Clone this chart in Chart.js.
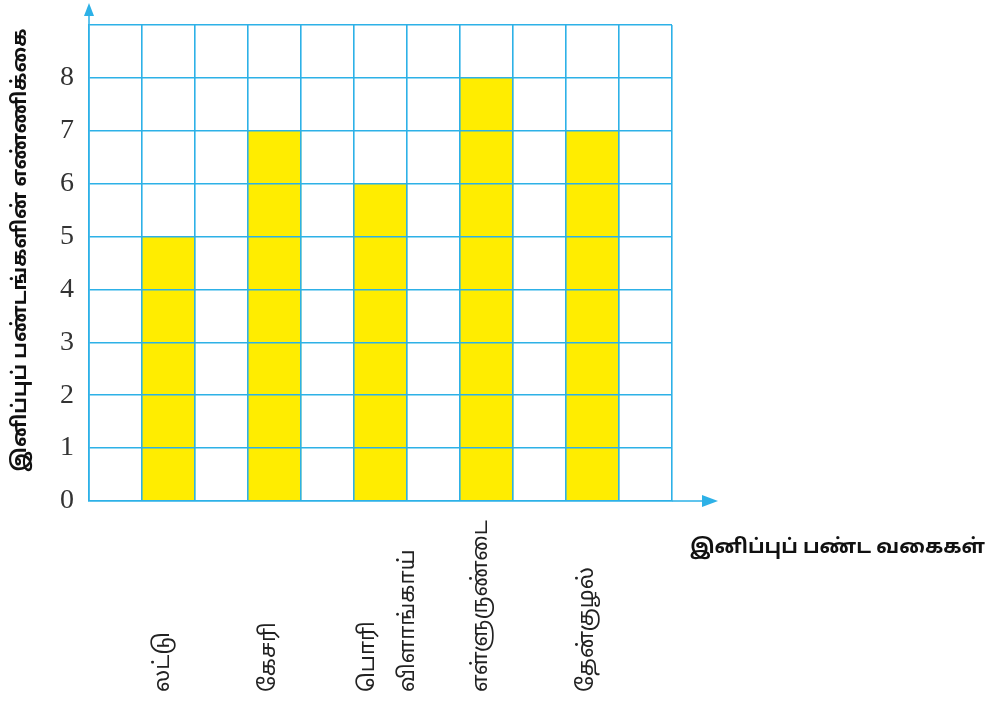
<!DOCTYPE html>
<html>
<head>
<meta charset="utf-8">
<script src="https://cdn.jsdelivr.net/npm/chart.js@4/dist/chart.umd.min.js"></script>
<style>
  html, body { margin: 0; padding: 0; background: #fff; }
  #wrap { width: 1002px; height: 701px; }
</style>
</head>
<body>
<div id="wrap"><canvas id="chart"></canvas></div>
<script>
// sweets and how many of each
const sweets = ['லட்டு', 'கேசரி', ['பொரி', 'விளாங்காய்'], 'எள்ளுருண்டை', 'தேன்குழல்'];
const counts = [5, 7, 6, 8, 7];
const yTicks = [0, 1, 2, 3, 4, 5, 6, 7, 8];
const yMax = 9;

const yTitle = 'இனிப்புப் பண்டங்களின் எண்ணிக்கை';
const xTitle = 'இனிப்புப் பண்ட வகைகள்';

const blue = '#2db1e7';
const tamilFont = "'Noto Sans Tamil', 'Noto Serif Tamil', 'Lohit Tamil', 'Latha', sans-serif";

// every sweet sits in its own column with an empty column either side
const slots = [''];
const values = [null];
sweets.forEach((s, i) => {
    slots.push(s, '');
    values.push(counts[i], null);
});

const decor = {
    id: 'decor',
    afterDraw(chart) {
        const ctx = chart.ctx;
        const x = chart.scales.x, y = chart.scales.y;
        const left = x.left, bottom = y.bottom, top = y.top, right = x.right;
        ctx.save();

        // axis arrows
        ctx.strokeStyle = blue;
        ctx.fillStyle = blue;
        ctx.lineWidth = 1.5;
        ctx.beginPath();
        ctx.moveTo(left, top); ctx.lineTo(left, 12);
        ctx.moveTo(right, bottom); ctx.lineTo(705, bottom);
        ctx.stroke();
        ctx.beginPath();
        ctx.moveTo(left, 3); ctx.lineTo(left - 5, 16); ctx.lineTo(left + 5, 16); ctx.closePath();
        ctx.fill();
        ctx.beginPath();
        ctx.moveTo(718, bottom); ctx.lineTo(702, bottom - 6); ctx.lineTo(702, bottom + 6); ctx.closePath();
        ctx.fill();

        // category names, written upward from the bottom
        ctx.fillStyle = '#222';
        ctx.font = '22px ' + tamilFont;
        ctx.textAlign = 'left';
        ctx.textBaseline = 'middle';
        slots.forEach((lab, i) => {
            if (!lab) return;
            const lines = Array.isArray(lab) ? lab : [lab];
            const cx = x.getPixelForValue(i) + (lines.length > 1 ? 9 : -4);
            lines.forEach((ln, k) => {
                const off = (k - (lines.length - 1) / 2) * 40;
                ctx.save();
                ctx.translate(cx + off, 692);
                ctx.rotate(-Math.PI / 2);
                ctx.fillText(ln, 0, 0);
                ctx.restore();
            });
        });

        // axis titles
        ctx.fillStyle = '#111';
        ctx.font = 'bold 20px ' + tamilFont;
        ctx.textAlign = 'center';
        ctx.save();
        ctx.translate(22, 250);
        ctx.rotate(-Math.PI / 2);
        ctx.fillText(yTitle, 0, 0);
        ctx.restore();
        ctx.textAlign = 'left';
        ctx.fillText(xTitle, 690, 549);

        ctx.restore();
    }
};

new Chart(document.getElementById('chart'), {
    type: 'bar',
    data: {
        labels: slots,
        datasets: [{
            data: values,
            backgroundColor: '#ffed00',
            borderWidth: 0,
            barPercentage: 1,
            categoryPercentage: 1
        }]
    },
    options: {
        responsive: true,
        maintainAspectRatio: false,
        animation: false,
        layout: { padding: { left: 0, top: 25, right: 330, bottom: 200 } },
        plugins: { legend: { display: false }, tooltip: { enabled: false } },
        scales: {
            x: {
                grid: { color: blue, lineWidth: 1.6, drawTicks: false, z: 1 },
                border: { color: blue, width: 1.6, z: 1 },
                ticks: { display: false },
                afterFit(s) { s.height = 0; }
            },
            y: {
                min: 0,
                max: yMax,
                grid: { color: blue, lineWidth: 1.6, drawTicks: false, z: 1 },
                border: { color: blue, width: 1.6, z: 1 },
                afterBuildTicks(s) { s.ticks = yTicks.concat([yMax]).map(v => ({ value: v })); },
                ticks: {
                    padding: 15,
                    color: '#333',
                    font: { family: "'Liberation Serif', 'Times New Roman', serif", size: 28 },
                    callback: v => (yTicks.includes(v) ? v : '')
                },
                afterFit(s) {
                    s.width = 89;
                    s.paddingTop = 0;
                }
            }
        }
    },
    plugins: [decor]
});
</script>
</body>
</html>
